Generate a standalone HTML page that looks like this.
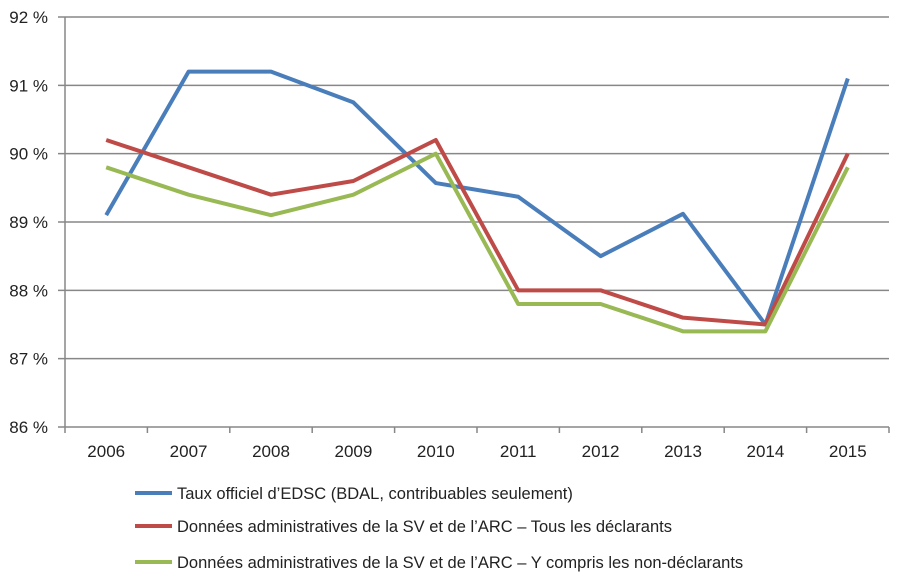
<!DOCTYPE html>
<html><head><meta charset="utf-8"><style>
body{margin:0;background:#fff;}
svg text{font-family:"Liberation Sans",sans-serif;fill:#222;}
</style></head><body>
<svg id="chart" width="900" height="580" xmlns="http://www.w3.org/2000/svg"></svg>
<script>
const categories=["2006","2007","2008","2009","2010","2011","2012","2013","2014","2015"];
const blueValues=[89.1,91.2,91.2,90.75,89.57,89.37,88.5,89.12,87.5,91.1];
const redValues=[90.2,89.8,89.4,89.6,90.2,88.0,88.0,87.6,87.5,90.0];
const greenValues=[89.8,89.4,89.1,89.4,90.0,87.8,87.8,87.4,87.4,89.8];
const yTicks=[86,87,88,89,90,91,92];
const seriesNames=["Taux officiel d’EDSC (BDAL, contribuables seulement)","Données administratives de la SV et de l’ARC – Tous les déclarants","Données administratives de la SV et de l’ARC – Y compris les non-déclarants"];
const NS="http://www.w3.org/2000/svg";
const svg=document.getElementById('chart');
const L=65,R=889,T=17,B=427,yMin=86,yMax=92;
const y=v=>B-(v-yMin)/(yMax-yMin)*(B-T);
const bw=(R-L)/categories.length;
const x=i=>L+bw*(i+0.5);
function mk(tag,a){const e=document.createElementNS(NS,tag);for(const k in a)e.setAttribute(k,a[k]);svg.appendChild(e);return e;}
yTicks.forEach(t=>{
 const g=mk('line',{x1:58,x2:R,y1:y(t),y2:y(t),stroke:'#878787','stroke-width':1.5});
 
 
 const tx=mk('text',{x:48,y:y(t)+6,'text-anchor':'end','font-size':17});
 tx.textContent=t+' %';
 
 
});
const ax=mk('line',{x1:L,x2:L,y1:T,y2:B,stroke:'#878787','stroke-width':1.5});


for(let i=0;i<=categories.length;i++){
 const tk=mk('line',{x1:L+bw*i,x2:L+bw*i,y1:B,y2:B+6,stroke:'#878787','stroke-width':1.5});
 
 
}
categories.forEach((c,i)=>{
 const tx=mk('text',{x:x(i),y:B+30,'text-anchor':'middle','font-size':17});
 tx.textContent=c;
 
 
});
const series=[[blueValues,'#4a7ebb','blue'],[redValues,'#be4b48','red'],[greenValues,'#98b954','green']];
series.forEach(([vals,col,nm])=>{
 const p=mk('polyline',{points:vals.map((v,i)=>x(i)+','+y(v)).join(' '),fill:'none',stroke:col,'stroke-width':4,'stroke-linejoin':'round'});
 
 
});
const ly=[493,526,562];
series.forEach(([v,col,nm],i)=>{
 const l=mk('line',{x1:135,x2:172,y1:ly[i],y2:ly[i],stroke:col,'stroke-width':4});
 
 
 const t=mk('text',{x:177,y:ly[i]+6,'font-size':16.5});
 t.textContent=seriesNames[i];
 
 
});
</script>
</body></html>
